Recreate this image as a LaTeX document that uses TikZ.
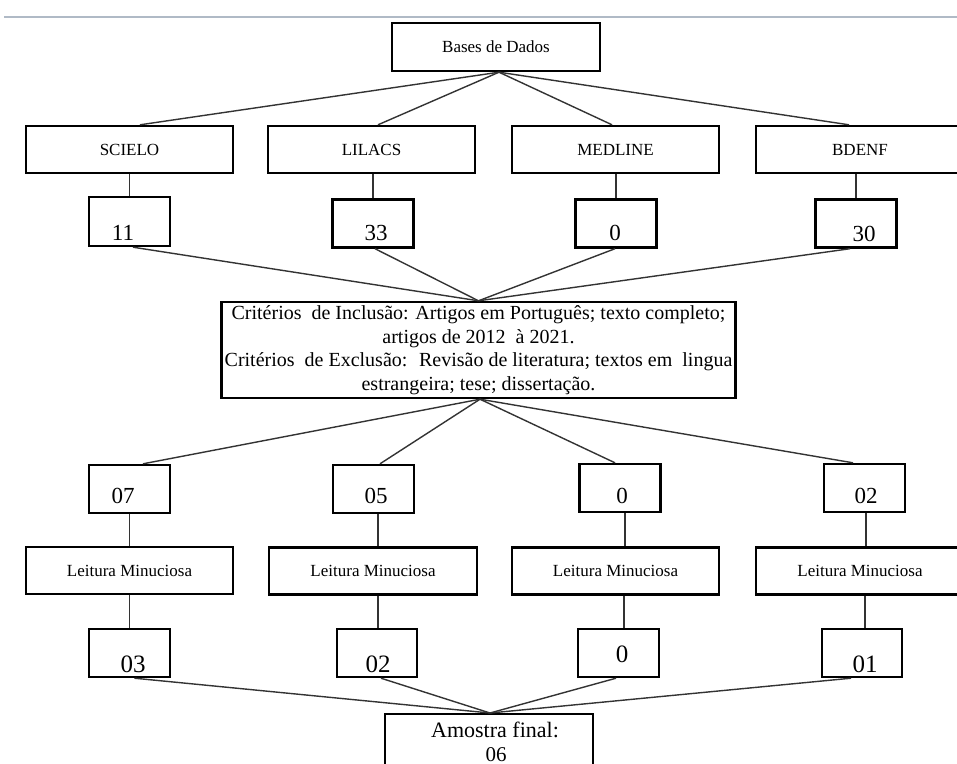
\documentclass[tikz,border=0pt]{standalone}
\usepackage{fontspec}
\setmainfont{Liberation Serif}
\usetikzlibrary{calc}
\begin{document}
\begin{tikzpicture}[x=1pt,y=-1pt,
  box/.style={draw=black,line width=2.4pt,inner sep=0pt,fill=white},
  dbbox/.style={box,minimum width=207pt,minimum height=47pt,font=\fontsize{17}{20}\selectfont},
  nbox/.style={box,minimum width=81pt,minimum height=48pt},
  conn/.style={draw=black!80,line width=1.4pt},
  numa/.style={anchor=base,font=\fontsize{23}{26}\selectfont},
  numb/.style={anchor=base,font=\fontsize{25}{28}\selectfont},
  ]
\clip (0,0) rectangle (957,763);
\fill[white] (0,0) rectangle (957,763);
\draw[color={rgb,255:red,176;green,186;blue,198},line width=1.5pt] (4,17) -- (957,17);

% top
\node[dbbox,minimum width=208pt,minimum height=48pt] (bases) at (496,47) {Bases de Dados};
\node[dbbox] (scielo) at (129.5,149.5) {SCIELO};
\node[dbbox] (lilacs) at (371.5,149.5) {LILACS};
\node[dbbox] (medline) at (615.5,149.5) {MEDLINE};
\node[dbbox,minimum width=208pt] (bdenf) at (860,149.5) {BDENF};

% first counts
\node[nbox,minimum height=49pt] (n11) at (129.5,221.5) {};
\node[nbox] (n33) at (373,223.5) {};
\node[nbox] (n0a) at (616,223.5) {};
\node[nbox] (n30) at (856,223.5) {};
\node[numa] (t11) at (123,240) {11};
\node[numa] (t33) at (376,240) {33};
\node[numa] (t0a) at (615,240) {0};
\node[numa] (t30) at (864,241) {30};

% criteria
\node[box,minimum width=514pt,minimum height=96pt,align=center,
  font=\fontsize{20}{23.5}\selectfont] (crit) at (478.5,350)
  {Critérios~ de Inclusão: Artigos em Português; texto completo;\\
   artigos de 2012~ à 2021.\\
   Critérios~ de Exclusão:~ Revisão de literatura; textos em~ lingua\\
   estrangeira; tese; dissertação.};

% second counts
\node[nbox] (r07) at (129.5,489) {};
\node[nbox] (r05) at (373.5,489) {};
\node[nbox] (r0) at (620,488) {};
\node[nbox] (r02) at (864.5,488) {};
\node[numa] (t07) at (123,503) {07};
\node[numa] (t05) at (376,503) {05};
\node[numa] (t0b) at (622,503) {0};
\node[numa] (t02) at (866,503) {02};

% leitura
\node[dbbox] (lm1) at (129.5,570.5) {Leitura Minuciosa};
\node[dbbox,minimum width=208pt] (lm2) at (373,571) {Leitura Minuciosa};
\node[dbbox] (lm3) at (615.5,571) {Leitura Minuciosa};
\node[dbbox,minimum width=208pt] (lm4) at (860,571) {Leitura Minuciosa};

% final counts
\node[nbox] (f03) at (129.5,653) {};
\node[nbox,minimum width=80pt] (f02) at (377,653) {};
\node[nbox] (f0) at (618.5,653) {};
\node[nbox,minimum width=80pt] (f01) at (862,653) {};
\node[numb] (u03) at (133,672) {03};
\node[numb] (u02) at (378,672) {02};
\node[numb] (u0) at (622,662) {0};
\node[numb] (u01) at (865,672) {01};

% final sample
\node[box,minimum width=208pt,minimum height=90pt,anchor=north] (amostra) at (489,713) {};
\node[anchor=base,inner sep=0pt,font=\fontsize{22}{26}\selectfont] (am1) at (495,737) {Amostra final:};
\node[anchor=base,inner sep=0pt,font=\fontsize{21}{24}\selectfont] (am2) at (496,761) {06};

% connectors
\draw[conn] ([xshift=3pt]bases.south) -- ([xshift=10.5pt]scielo.north);
\draw[conn] ([xshift=3pt]bases.south) -- ([xshift=6.5pt]lilacs.north);
\draw[conn] ([xshift=3pt]bases.south) -- ([xshift=-3.5pt]medline.north);
\draw[conn] ([xshift=3pt]bases.south) -- ([xshift=-11pt]bdenf.north);

\draw[conn] (n11.north) -- (n11.north |- scielo.south);
\draw[conn] (n33.north) -- (n33.north |- lilacs.south);
\draw[conn] (n0a.north) -- (n0a.north |- medline.south);
\draw[conn] (n30.north) -- (n30.north |- bdenf.south);

\draw[conn] ([xshift=3.5pt]n11.south) -- (crit.north);
\draw[conn] ([xshift=2pt]n33.south) -- (crit.north);
\draw[conn] ([xshift=-1pt]n0a.south) -- (crit.north);
\draw[conn] ([xshift=-6pt]n30.south) -- (crit.north);

\draw[conn] ([xshift=1.5pt]crit.south) -- ([xshift=13.5pt]r07.north);
\draw[conn] ([xshift=1.5pt]crit.south) -- ([xshift=6.5pt]r05.north);
\draw[conn] ([xshift=1.5pt]crit.south) -- ([xshift=-5pt]r0.north);
\draw[conn] ([xshift=1.5pt]crit.south) -- ([xshift=-11.5pt]r02.north);

\draw[conn] (r07.south) -- (r07.south |- lm1.north);
\draw[conn] ([xshift=4.5pt]r05.south) -- ([xshift=4.5pt]r05.south |- lm2.north);
\draw[conn] ([xshift=5pt]r0.south) -- ([xshift=5pt]r0.south |- lm3.north);
\draw[conn] ([xshift=1.5pt]r02.south) -- ([xshift=1.5pt]r02.south |- lm4.north);

\draw[conn] (f03.north) -- (f03.north |- lm1.south);
\draw[conn] ([xshift=1pt]f02.north) -- ([xshift=1pt]f02.north |- lm2.south);
\draw[conn] ([xshift=5.5pt]f0.north) -- ([xshift=5.5pt]f0.north |- lm3.south);
\draw[conn] ([xshift=3pt]f01.north) -- ([xshift=3pt]f01.north |- lm4.south);

\draw[conn] ([xshift=5pt]f03.south) -- ([xshift=1pt]amostra.north);
\draw[conn] ([xshift=4pt]f02.south) -- ([xshift=1pt]amostra.north);
\draw[conn] ([xshift=-2.5pt]f0.south) -- ([xshift=1pt]amostra.north);
\draw[conn] ([xshift=-11pt]f01.south) -- ([xshift=1pt]amostra.north);
\end{tikzpicture}
\end{document}
